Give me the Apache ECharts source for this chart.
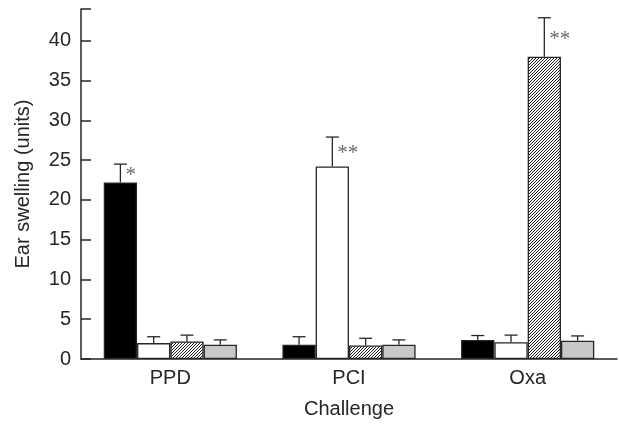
<!DOCTYPE html>
<html>
<head>
<meta charset="utf-8">
<script src="https://cdn.jsdelivr.net/npm/echarts@6/dist/echarts.min.js"></script>
<style>html,body{margin:0;padding:0;background:#fff}#c{width:619px;height:424px}</style>
</head>
<body>
<div id="c"></div>
<script>
// ---- data ----
const categories = ['PPD', 'PCI', 'Oxa'];
const groupNames = ['PPD-sensitized', 'PCI-sensitized', 'Oxa-sensitized', 'Control'];
const ppdSens = [22.2, 1.8, 2.4];
const pciSens = [2.0, 24.2, 2.1];
const oxaSens = [2.2, 1.7, 38.0];
const control = [1.8, 1.8, 2.3];
const ppdSensErr = [2.3, 1.0, 0.55];
const pciSensErr = [0.8, 3.7, 0.9];
const oxaSensErr = [0.8, 0.9, 4.9];
const controlErr = [0.6, 0.6, 0.6];
const ppdSensSig = ['*', '', ''];
const pciSensSig = ['', '**', ''];
const oxaSensSig = ['', '', '**'];
const controlSig = ['', '', ''];
const yTicks = [0, 5, 10, 15, 20, 25, 30, 35, 40];

const values = [ppdSens, pciSens, oxaSens, control];
const errors = [ppdSensErr, pciSensErr, oxaSensErr, controlErr];
const sigs = [ppdSensSig, pciSensSig, oxaSensSig, controlSig];

// hatch pattern
function makeHatch() {
  const s = 3;
  const cv = document.createElement('canvas');
  cv.width = s; cv.height = s;
  const ctx = cv.getContext('2d');
  const img = ctx.createImageData(s, s);
  for (let y = 0; y < s; y++) {
    for (let x = 0; x < s; x++) {
      const i = (y * s + x) * 4;
      const dark = ((x + y) % s) === s - 1;
      const c = dark ? 25 : 255;
      img.data[i] = c; img.data[i + 1] = c; img.data[i + 2] = c; img.data[i + 3] = 255;
    }
  }
  ctx.putImageData(img, 0, 0);
  return cv;
}

const fills = ['#000000', '#ffffff', { image: makeHatch(), repeat: 'repeat' }, '#c8c8c8'];
const BAR_W = 33.3;
const INK = '#262626';
const FONT = '"Liberation Sans", Arial, sans-serif';
const FS = 20;

const series = [];
values.forEach((vals, i) => {
  series.push({
    name: groupNames[i],
    type: 'bar',
    data: vals,
    barWidth: BAR_W,
    barGap: '0%',
    itemStyle: { color: fills[i], borderColor: INK, borderWidth: 1.3 },
    z: 2
  });
});
values.forEach((vals, i) => {
  series.push({
    name: groupNames[i] + ' error',
    type: 'custom',
    data: vals.map((v, k) => [k, v, errors[i][k]]),
    z: 5,
    renderItem: function (params, api) {
      const k = api.value(0);
      const v = api.value(1);
      const e = api.value(2);
      const base = api.coord([k, v]);
      const top = api.coord([k, v + e]);
      const x = base[0] + (i - 1.5) * BAR_W;
      const half = 6.5;
      const children = [
        { type: 'line', shape: { x1: x, y1: base[1], x2: x, y2: top[1] }, style: { stroke: INK, lineWidth: 1.3 } },
        { type: 'line', shape: { x1: x - half, y1: top[1], x2: x + half, y2: top[1] }, style: { stroke: INK, lineWidth: 1.3 } }
      ];
      const sig = sigs[i][k];
      if (sig) {
        children.push({
          type: 'text',
          style: {
            text: sig, x: x + 5, y: (base[1] + top[1]) / 2 + 2,
            fill: '#6a6a6a', font: '21px "Liberation Serif", "Times New Roman", serif',
            align: 'left', verticalAlign: 'middle'
          }
        });
      }
      return { type: 'group', children: children };
    }
  });
});

const chart = echarts.init(document.getElementById('c'), null, { renderer: 'canvas' });
chart.setOption({
  animation: false,
  backgroundColor: '#ffffff',
  grid: { left: 81, right: 2, top: 9, bottom: 61, containLabel: false },
  xAxis: {
    type: 'category',
    data: categories,
    name: 'Challenge',
    nameLocation: 'middle',
    nameGap: 40,
    nameTextStyle: { fontSize: FS, color: INK, fontFamily: FONT },
    axisLine: { lineStyle: { color: INK, width: 1.5 } },
    axisTick: { inside: true, length: 9, lineStyle: { color: INK, width: 1.5 } },
    axisLabel: { fontSize: FS, color: INK, fontFamily: FONT, margin: 9 },
    splitLine: { show: false }
  },
  yAxis: {
    type: 'value',
    min: 0,
    max: 44,
    interval: 5,
    name: 'Ear swelling (units)',
    nameLocation: 'middle',
    nameGap: 48,
    nameTextStyle: { fontSize: FS, color: INK, fontFamily: FONT },
    axisLine: { show: true, lineStyle: { color: INK, width: 1.5 } },
    axisTick: { show: true, inside: true, length: 10, lineStyle: { color: INK, width: 1.5 } },
    axisLabel: {
      fontSize: FS, color: INK, fontFamily: FONT, margin: 10,
      formatter: function (v) { return yTicks.indexOf(v) >= 0 ? String(v) : ''; }
    },
    splitLine: { show: false }
  },
  series: series
});
</script>
</body>
</html>
